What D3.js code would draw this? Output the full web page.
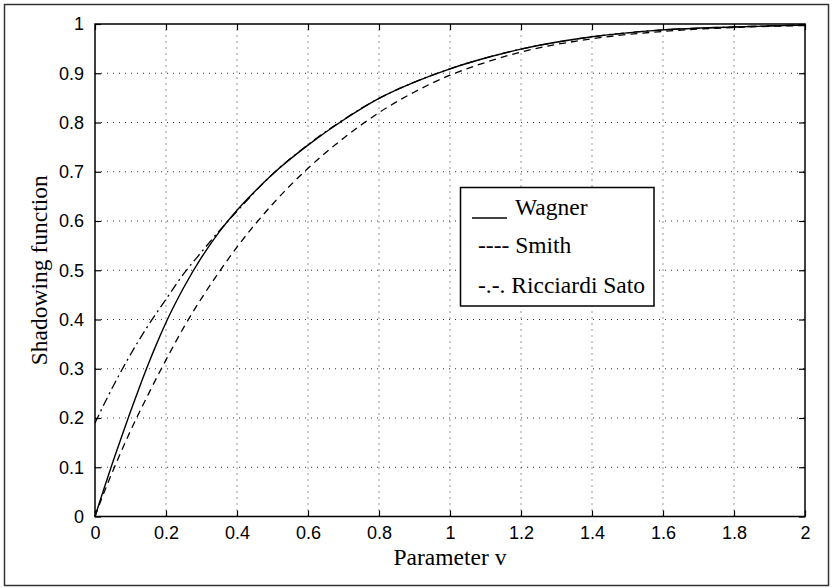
<!DOCTYPE html>
<html>
<head>
<meta charset="utf-8">
<script src="https://cdn.jsdelivr.net/npm/d3@7"></script>
<style>
  body { margin: 0; background: #fff; }
  .tick text { font-family: "Liberation Sans", Arial, sans-serif; font-size: 18px; fill: #000; }
  .label { font-family: "Liberation Serif", "Times New Roman", serif; font-size: 23.5px; fill: #000; }
</style>
</head>
<body>
<script>
// values
var xTicks = [0, 0.2, 0.4, 0.6, 0.8, 1, 1.2, 1.4, 1.6, 1.8, 2];
var yTicks = [0, 0.1, 0.2, 0.3, 0.4, 0.5, 0.6, 0.7, 0.8, 0.9, 1];

var wagnerV = [0, 0.025, 0.05, 0.075, 0.1, 0.125, 0.15, 0.175, 0.2, 0.25, 0.3, 0.35, 0.4, 0.45, 0.5, 0.6, 0.7, 0.8, 0.9, 1.0, 1.1, 1.2, 1.4, 1.6, 1.8, 2.0];
var wagnerS = [0, 0.056, 0.11, 0.162, 0.213, 0.262, 0.309, 0.353, 0.394, 0.465, 0.526, 0.578, 0.622, 0.66, 0.695, 0.754, 0.805, 0.849, 0.882, 0.909, 0.931, 0.949, 0.974, 0.988, 0.994, 0.998];

var smithV = [0, 0.025, 0.05, 0.075, 0.1, 0.15, 0.2, 0.25, 0.3, 0.35, 0.4, 0.5, 0.6, 0.7, 0.8, 0.9, 1.0, 1.1, 1.2, 1.4, 1.6, 1.8, 2.0];
var smithS = [0, 0.048, 0.092, 0.134, 0.174, 0.248, 0.318, 0.384, 0.443, 0.497, 0.547, 0.634, 0.707, 0.768, 0.82, 0.862, 0.896, 0.922, 0.943, 0.970, 0.985, 0.993, 0.997];

var satoV = [0, 0.05, 0.1, 0.15, 0.2, 0.25, 0.3, 0.35, 0.4, 0.5, 0.6, 0.7, 0.8, 0.9, 1.0, 1.2, 1.4, 1.6, 1.8, 2.0];
var satoS = [0.19, 0.263, 0.329, 0.388, 0.441, 0.493, 0.537, 0.58, 0.62, 0.695, 0.755, 0.806, 0.849, 0.882, 0.909, 0.949, 0.974, 0.988, 0.994, 0.998];

var width = 832, height = 588;
var margin = {left: 95, right: 27, top: 24, bottom: 71.5};

var svg = d3.select("body").append("svg")
    .attr("width", width)
    .attr("height", height);

// outer frame
svg.append("rect")
    .attr("x", 4.5).attr("y", 4.5)
    .attr("width", 824).attr("height", 581)
    .attr("fill", "none").attr("stroke", "#333").attr("stroke-width", 1.5);

var x = d3.scaleLinear().domain([0, 2]).range([margin.left, width - margin.right]);
var y = d3.scaleLinear().domain([0, 1]).range([height - margin.bottom, margin.top]);

var g = svg.append("g");

// dotted grid
g.selectAll(".vgrid").data(xTicks.slice(1, -1)).enter().append("line")
    .attr("x1", function(d) { return x(d); }).attr("x2", function(d) { return x(d); })
    .attr("y1", y(0)).attr("y2", y(1))
    .attr("stroke", "#333").attr("stroke-dasharray", "1,5");
g.selectAll(".hgrid").data(yTicks.slice(1, -1)).enter().append("line")
    .attr("y1", function(d) { return y(d); }).attr("y2", function(d) { return y(d); })
    .attr("x1", x(0)).attr("x2", x(2))
    .attr("stroke", "#333").attr("stroke-dasharray", "1,5");

// axes, ticks pointing inward
var xAxis = g.append("g")
    .attr("transform", "translate(0," + y(0) + ")")
    .call(d3.axisBottom(x).tickValues(xTicks).tickFormat(d3.format("")).tickSizeInner(-6).tickSizeOuter(0).tickPadding(10));
var yAxis = g.append("g")
    .attr("transform", "translate(" + x(0) + ",0)")
    .call(d3.axisLeft(y).tickValues(yTicks).tickFormat(d3.format("")).tickSizeInner(-6).tickSizeOuter(0).tickPadding(11));
g.append("g")
    .attr("transform", "translate(0," + y(1) + ")")
    .call(d3.axisTop(x).tickValues(xTicks).tickFormat("").tickSizeInner(-6).tickSizeOuter(0));
g.append("g")
    .attr("transform", "translate(" + x(2) + ",0)")
    .call(d3.axisRight(y).tickValues(yTicks).tickFormat("").tickSizeInner(-6).tickSizeOuter(0));
g.selectAll(".domain").remove();
g.selectAll(".tick line").attr("stroke", "#000").attr("stroke-width", 1.2);
xAxis.selectAll("text").attr("dy", "0.71em");

// box
g.append("rect")
    .attr("x", x(0)).attr("y", y(1))
    .attr("width", x(2) - x(0)).attr("height", y(0) - y(1))
    .attr("fill", "none").attr("stroke", "#000").attr("stroke-width", 1.5);

var line = d3.line()
    .x(function(d) { return x(d[0]); })
    .y(function(d) { return y(d[1]); })
    .curve(d3.curveMonotoneX);

function zip(a, b) { return a.map(function(v, i) { return [v, b[i]]; }); }

g.append("path").datum(zip(smithV, smithS))
    .attr("d", line).attr("fill", "none").attr("stroke", "#000").attr("stroke-width", 1.3)
    .attr("stroke-dasharray", "7,5");
g.append("path").datum(zip(satoV, satoS))
    .attr("d", line).attr("fill", "none").attr("stroke", "#000").attr("stroke-width", 1.3)
    .attr("stroke-dasharray", "9,4,2,4");
g.append("path").datum(zip(wagnerV, wagnerS))
    .attr("d", line).attr("fill", "none").attr("stroke", "#000").attr("stroke-width", 1.4);

// axis labels
svg.append("text").attr("class", "label")
    .attr("x", (x(0) + x(2)) / 2).attr("y", 565)
    .attr("text-anchor", "middle").text("Parameter v");
svg.append("text").attr("class", "label")
    .attr("transform", "translate(47," + (y(0) + y(1)) / 2 + ") rotate(-90)")
    .attr("text-anchor", "middle").text("Shadowing function");

// legend
var leg = svg.append("g");
leg.append("rect")
    .attr("x", 460.5).attr("y", 187.5).attr("width", 193.5).attr("height", 118.5)
    .attr("fill", "#fff").attr("stroke", "#000").attr("stroke-width", 1.5);
leg.append("line")
    .attr("x1", 472).attr("x2", 507).attr("y1", 218).attr("y2", 218)
    .attr("stroke", "#000").attr("stroke-width", 1.4);
leg.append("text").attr("class", "label").attr("x", 515).attr("y", 215).text("Wagner");
leg.append("text").attr("class", "label").attr("x", 478).attr("y", 253).text("---- Smith");
leg.append("text").attr("class", "label").attr("x", 478).attr("y", 293).text("-.-. Ricciardi Sato");
</script>
</body>
</html>
